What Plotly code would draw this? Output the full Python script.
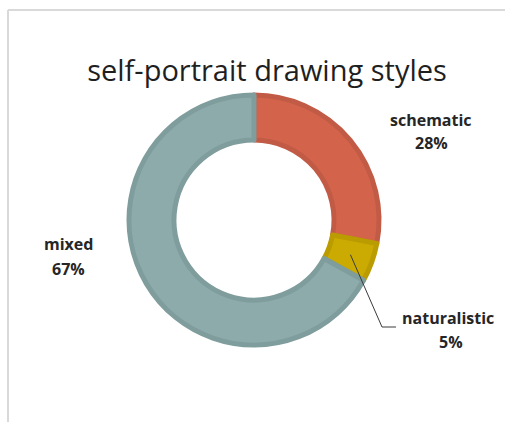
import math
import plotly.graph_objects as go

# Drawing style shares (percent)
styles = ["schematic", "naturalistic", "mixed"]
shares = [28, 5, 67]
fill_colors = ["#d3644b", "#cbab02", "#8dabaa"]
edge_colors = ["#c25b46", "#bb9c00", "#7f9d9c"]

W, H = 505, 422
cx, cy, r_out = 254, 220, 125   # donut centre / radius in px (from top-left)
hole = 0.64

fig = go.Figure()
fig.add_trace(go.Pie(
    labels=styles,
    values=shares,
    hole=hole,
    sort=False,
    direction="clockwise",
    rotation=0,
    textinfo="none",
    hoverinfo="label+percent",
    showlegend=False,
    marker=dict(colors=fill_colors, line=dict(color=edge_colors, width=5)),
    domain=dict(x=[(cx - r_out) / W, (cx + r_out) / W],
                y=[(H - cy - r_out) / H, (H - cy + r_out) / H]),
))

def px(x, y):
    return x / W, 1 - y / H

label_font = dict(family="Open Sans", size=16, color="#262626")
# name / percentage positions for each slice label (px)
label_pos = {
    "schematic": ((431, 120), (431, 143)),
    "naturalistic": ((448, 318), (451, 342)),
    "mixed": ((68, 244), (68, 269)),
}
total = sum(shares)
for name, val in zip(styles, shares):
    (nx, ny), (vx, vy) = label_pos[name]
    for (x, y), txt in (((nx, ny), f"<b>{name}</b>"),
                        ((vx, vy), f"<b>{round(100 * val / total)}%</b>")):
        ax_, ay_ = px(x, y)
        fig.add_annotation(x=ax_, y=ay_, xref="paper", yref="paper",
                           text=txt, showarrow=False, font=label_font,
                           xanchor="center", yanchor="middle")

# leader line from the middle of the naturalistic slice to its label
cum = 0
for name, val in zip(styles, shares):
    if name == "naturalistic":
        mid = (cum + val / 2) / total * 2 * math.pi
        break
    cum += val
r_mid = r_out * (1 + hole) / 2
sx = cx + r_mid * math.sin(mid)
sy = cy - r_mid * math.cos(mid)
pts = [px(sx, sy), px(382, 327), px(396, 327)]
path = "M " + " L ".join(f"{x},{y}" for x, y in pts)
fig.add_shape(type="path", path=path, xref="paper", yref="paper",
              line=dict(color="#3a3a3a", width=1))

# chart frame: left and top edges
fx, fy = px(8, 10)
fig.add_shape(type="line", xref="paper", yref="paper",
              x0=fx, y0=0, x1=fx, y1=fy,
              line=dict(color="#d9d9d9", width=2), layer="below")
fig.add_shape(type="line", xref="paper", yref="paper",
              x0=fx, y0=fy, x1=1, y1=fy,
              line=dict(color="#d9d9d9", width=2), layer="below")

fig.update_layout(
    width=W, height=H,
    margin=dict(l=0, r=0, t=0, b=0),
    paper_bgcolor="white",
    plot_bgcolor="white",
    title=dict(text="self-portrait drawing styles",
               x=267 / W, xanchor="center",
               y=1 - 71 / H, yanchor="middle",
               font=dict(family="Open Sans", size=29, color="#1f1f1f")),
)

fig.write_html("out.html", config={"displayModeBar": False})
